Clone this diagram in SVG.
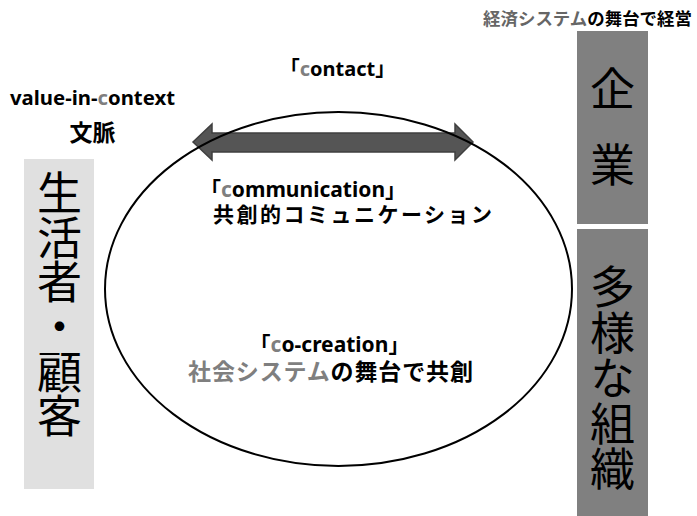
<svg xmlns="http://www.w3.org/2000/svg" width="697" height="516" viewBox="0 0 697 516">
<style>
.b{font-family:"Noto Sans","Noto Sans CJK JP",sans-serif;font-weight:bold;fill:#000}
.v{font-family:"Noto Sans CJK JP",sans-serif;font-size:45px;fill:#000;writing-mode:vertical-rl}
.g{fill:#7f7f7f}
.dg{fill:#666}
</style>
<rect width="697" height="516" fill="#fff"/>
<g id="customer">
<rect x="24" y="159" width="70" height="330" fill="#e0e0e0"/>
<text class="v" x="59.5" y="170.5" letter-spacing="-0.4">生活者・顧客</text>
</g>
<g id="company">
<rect x="577" y="31" width="71" height="193" fill="#808080"/>
<text class="v" x="612.5" y="66.5" letter-spacing="31">企業</text>
</g>
<g id="organizations">
<rect x="577" y="229" width="71" height="287" fill="#808080"/>
<text class="v" x="612.5" y="264.5" letter-spacing="0.5">多様な組織</text>
</g>
<g id="connectors">
<polygon points="193,142 212,124 212,133 455,133 455,124 473,142 455,160 455,152 212,152 212,160" fill="#555" stroke="#3f3f3f" stroke-width="1.5" stroke-linejoin="miter"/>
</g>
<g id="stage">
<ellipse cx="338.5" cy="289" rx="233.5" ry="177" fill="none" stroke="#000" stroke-width="2"/>
</g>
<g id="labels">
<text class="b" x="483" y="25" font-size="17" textLength="209" lengthAdjust="spacingAndGlyphs"><tspan class="dg">経済システム</tspan>の舞台で経営</text>
<text class="b" x="10" y="105" font-size="19" textLength="165" lengthAdjust="spacingAndGlyphs">value-in-<tspan class="g">c</tspan>ontext</text>
<text class="b" x="92.5" y="141" font-size="23" text-anchor="middle">文脈</text>
<text class="b" x="337.5" y="76" font-size="20" text-anchor="middle">「<tspan class="g">c</tspan>ontact」</text>
<text class="b" x="303" y="197" font-size="21" text-anchor="middle">「<tspan class="g">c</tspan>ommunication」</text>
<text class="b" x="213" y="222" font-size="21" textLength="279" lengthAdjust="spacing">共創的コミュニケーション</text>
<text class="b" x="329.5" y="352" font-size="21" text-anchor="middle">「<tspan class="g">c</tspan>o-creation」</text>
<text class="b" x="188" y="380" font-size="23" textLength="285" lengthAdjust="spacing"><tspan class="g">社会システム</tspan>の舞台で共創</text>
</g>
</svg>
